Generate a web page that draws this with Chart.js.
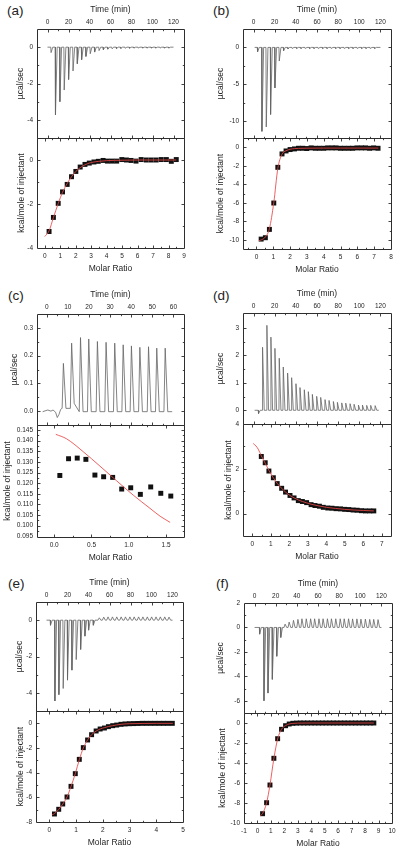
<!DOCTYPE html>
<html><head><meta charset="utf-8">
<script src="https://cdn.jsdelivr.net/npm/chart.js@4.4.1/dist/chart.umd.min.js"></script>
<style>
html,body{margin:0;padding:0;background:#fff;}
#wrap{position:relative;width:400px;height:851px;overflow:hidden;background:#fff;}
#wrap canvas{position:absolute;left:0;top:0;}
.lab{position:absolute;font-family:"Liberation Sans",Arial,sans-serif;font-size:13.5px;line-height:13.5px;color:#222;white-space:nowrap;}
</style></head><body>
<div id="wrap">
  <div class="lab" style="left:7px;top:4px">(a)</div>
  <div class="lab" style="left:213px;top:4px">(b)</div>
  <div class="lab" style="left:8px;top:289px">(c)</div>
  <div class="lab" style="left:213px;top:289px">(d)</div>
  <div class="lab" style="left:8px;top:577px">(e)</div>
  <div class="lab" style="left:216px;top:577px">(f)</div>
</div>
<script>
// ---------- tick labels ----------
const timeTicks = [0, 20, 40, 60, 80, 100, 120];
const timeTicksC = [0, 10, 20, 30, 40, 50, 60];

// ---------- panel (a) ----------
const timeA = [3.4, 7.6, 11.8, 15.9, 20.1, 24.3, 28.4, 32.5, 36.6, 40.7, 44.9, 49.1, 53.2, 57.4, 61.5, 65.7, 69.8, 74.0, 78.1, 82.3, 86.4, 90.6, 94.7, 98.9, 103.0, 107.2, 111.3, 115.5];
const heatA = [-0.30, -3.73, -3.00, -2.36, -1.78, -1.31, -0.91, -0.69, -0.51, -0.36, -0.27, -0.19, -0.14, -0.11, -0.09, -0.08, -0.07, -0.06, -0.06, -0.05, -0.05, -0.05, -0.05, -0.05, -0.05, -0.05, -0.05, -0.05];
const ratioA = [0.28, 0.56, 0.87, 1.15, 1.45, 1.73, 2.01, 2.29, 2.60, 2.88, 3.18, 3.46, 3.77, 4.05, 4.35, 4.65, 4.98, 5.28, 5.58, 5.90, 6.23, 6.56, 6.88, 7.20, 7.53, 7.86, 8.18, 8.50];
const kcalA = [-3.25, -2.61, -1.97, -1.45, -1.11, -0.76, -0.52, -0.32, -0.20, -0.14, -0.09, -0.06, -0.02, -0.05, -0.05, -0.05, 0.02, 0.00, -0.02, -0.05, 0.02, 0.00, 0.00, 0.00, 0.02, 0.02, -0.06, 0.02];
const fitXA = [0.0, 0.28, 0.56, 0.87, 1.15, 1.45, 1.73, 2.01, 2.29, 2.60, 2.88, 3.18, 3.50, 4.00, 5.00, 6.00, 7.00, 8.50];
const fitYA = [-3.48, -3.22, -2.62, -1.98, -1.47, -1.07, -0.76, -0.52, -0.35, -0.22, -0.14, -0.09, -0.06, -0.03, -0.01, 0.00, 0.00, 0.00];
const ratioTicksA = [0, 1, 2, 3, 4, 5, 6, 7, 8, 9];

// ---------- panel (b) ----------
const timeB = [3.8, 7.9, 12.0, 16.1, 20.2, 24.3, 28.4, 32.5, 36.6, 40.7, 44.8, 48.9, 53.0, 57.1, 61.2, 65.3, 69.4, 73.5, 77.6, 81.7, 85.8, 89.9, 94.0, 98.1, 102.2, 106.3, 110.4, 114.5];
const heatB = [-0.6, -11.4, -10.8, -9.1, -5.5, -1.85, -0.45, -0.2, -0.15, -0.15, -0.15, -0.15, -0.15, -0.15, -0.15, -0.15, -0.15, -0.15, -0.15, -0.15, -0.15, -0.15, -0.15, -0.15, -0.15, -0.15, -0.15, -0.15];
const ratioB = [0.28, 0.53, 0.77, 1.03, 1.27, 1.52, 1.76, 2.00, 2.26, 2.50, 2.75, 2.99, 3.25, 3.50, 3.74, 4.00, 4.24, 4.50, 4.73, 4.99, 5.23, 5.49, 5.72, 5.98, 6.24, 6.48, 6.73, 6.97, 7.23];
const kcalB = [-9.93, -9.78, -8.88, -6.03, -2.17, -0.72, -0.40, -0.25, -0.18, -0.11, -0.11, -0.14, -0.07, -0.11, -0.11, -0.11, -0.07, -0.07, -0.07, -0.11, -0.11, -0.11, -0.11, -0.07, -0.07, -0.07, -0.11, -0.07, -0.11];
const fitXB = [0.15, 0.28, 0.53, 0.77, 1.03, 1.27, 1.52, 1.76, 2.00, 2.26, 2.50, 3.00, 4.00, 5.00, 6.00, 7.25];
const fitYB = [-10.1, -10.02, -9.7, -8.8, -6.0, -2.3, -0.75, -0.38, -0.22, -0.15, -0.12, -0.10, -0.09, -0.09, -0.09, -0.09];
const ratioTicksB = [0, 1, 2, 3, 4, 5, 6, 7, 8];

// ---------- panel (c) ----------
const timeC = [7.9, 11.8, 16.0, 19.9, 24.0, 28.1, 32.2, 36.2, 40.1, 44.1, 48.2, 52.1, 56.1];
const heatC = [0.172, 0.245, 0.265, 0.260, 0.251, 0.248, 0.245, 0.239, 0.235, 0.230, 0.232, 0.227, 0.227];
const startLvC = [0.010, 0.010, -0.002, -0.002, -0.002, -0.002, -0.002, -0.002, -0.002, -0.002, -0.002, -0.002, -0.002];
const endLvC = [0.010, 0.028, -0.002, -0.002, -0.002, -0.002, -0.002, -0.002, -0.002, -0.002, -0.002, -0.002, -0.002];
const preTimeC = [0.5, 2.0, 3.0, 4.2, 5.0, 5.8, 6.6, 7.2];
const preHeatC = [0.004, 0.000, 0.004, -0.004, -0.023, -0.012, 0.006, 0.010];
const ratioC = [0.076, 0.193, 0.309, 0.425, 0.546, 0.663, 0.784, 0.905, 1.026, 1.155, 1.294, 1.429, 1.563];
const kcalC = [0.1236, 0.1315, 0.1318, 0.1312, 0.1238, 0.1230, 0.1227, 0.1172, 0.1178, 0.1147, 0.1182, 0.1152, 0.1139];
const fitXC = [0.022, 0.166, 0.39, 0.614, 0.837, 1.061, 1.285, 1.42, 1.554];
const fitYC = [0.1430, 0.1409, 0.1348, 0.1280, 0.1211, 0.1143, 0.1081, 0.1044, 0.1015];
const ratioTicksC = [0, 0.5, 1.0, 1.5];

// ---------- panel (d) ----------
const timeD = [4.7, 8.5, 12.6, 16.4, 20.2, 24.3, 28.1, 32.2, 36.0, 40.1, 43.9, 48.0, 51.8, 55.6, 59.7, 63.5, 67.6, 71.4, 75.5, 79.3, 83.4, 87.2, 91.3, 95.1, 99.2, 103.0, 107.0, 110.8, 115.0];
const heatD = [-0.12, 2.30, 3.10, 2.67, 2.26, 1.90, 1.58, 1.36, 1.19, 0.97, 0.83, 0.75, 0.68, 0.58, 0.51, 0.47, 0.39, 0.36, 0.32, 0.29, 0.27, 0.26, 0.24, 0.22, 0.19, 0.19, 0.18, 0.18, 0.17];
const ratioD = [0.49, 0.70, 0.90, 1.14, 1.35, 1.59, 1.80, 2.04, 2.26, 2.49, 2.71, 2.94, 3.18, 3.39, 3.63, 3.84, 4.08, 4.31, 4.53, 4.77, 5.00, 5.22, 5.45, 5.67, 5.90, 6.12, 6.35, 6.57];
const kcalD = [2.55, 2.27, 1.90, 1.60, 1.34, 1.13, 0.96, 0.81, 0.70, 0.58, 0.54, 0.49, 0.40, 0.36, 0.33, 0.28, 0.25, 0.24, 0.22, 0.21, 0.19, 0.18, 0.16, 0.15, 0.13, 0.12, 0.12, 0.12];
const fitXD = [0.05, 0.20, 0.32, 0.49, 0.70, 0.90, 1.14, 1.35, 1.59, 1.80, 2.04, 2.26, 2.49, 2.71, 2.94, 3.18, 3.50, 4.00, 4.50, 5.00, 5.50, 6.00, 6.57];
const fitYD = [3.13, 3.02, 2.88, 2.58, 2.25, 1.93, 1.60, 1.35, 1.13, 0.96, 0.81, 0.70, 0.61, 0.54, 0.48, 0.42, 0.36, 0.28, 0.23, 0.19, 0.16, 0.14, 0.12];
const ratioTicksD = [0, 1, 2, 3, 4, 5, 6, 7];

// ---------- panel (e) ----------
const timeE = [3.8, 8.0, 11.8, 15.9, 20.0, 24.2, 28.3, 32.5, 36.6, 40.1, 44.6, 50.3, 54.5, 58.6, 62.8, 66.9, 71.1, 75.2, 79.4, 83.5, 87.7, 91.8, 96.0, 100.1, 104.3, 108.4, 112.6, 116.7];
const heatE = [-0.28, -4.45, -4.10, -3.76, -3.30, -2.75, -2.17, -1.61, -0.88, -0.55, -0.28, 0.13, 0.17, 0.18, 0.18, 0.18, 0.18, 0.18, 0.18, 0.18, 0.18, 0.18, 0.18, 0.18, 0.18, 0.18, 0.18, 0.17];
const ratioE = [0.19, 0.35, 0.50, 0.66, 0.81, 0.97, 1.12, 1.27, 1.43, 1.58, 1.75, 1.90, 2.06, 2.21, 2.37, 2.52, 2.68, 2.83, 2.99, 3.15, 3.31, 3.47, 3.63, 3.79, 3.95, 4.11, 4.27, 4.43, 4.60];
const kcalE = [-7.35, -6.97, -6.54, -5.97, -5.11, -4.08, -2.92, -1.97, -1.35, -0.92, -0.62, -0.46, -0.38, -0.27, -0.19, -0.14, -0.08, -0.05, -0.03, -0.02, -0.01, 0.00, 0.00, 0.00, 0.00, 0.00, 0.00, 0.00, 0.00];
const fitXE = [0.10, 0.19, 0.35, 0.50, 0.66, 0.81, 0.97, 1.12, 1.27, 1.43, 1.58, 1.75, 1.90, 2.06, 2.21, 2.37, 2.52, 2.68, 2.83, 3.00, 3.50, 4.00, 4.62];
const fitYE = [-7.43, -7.32, -6.98, -6.55, -5.97, -5.12, -4.08, -2.95, -2.00, -1.35, -0.92, -0.63, -0.46, -0.35, -0.26, -0.19, -0.13, -0.08, -0.05, -0.03, -0.01, 0.00, 0.00];
const ratioTicksE = [0, 1, 2, 3, 4, 5];

// ---------- panel (f) ----------
const timeF = [4.8, 8.9, 12.7, 16.8, 21.0, 24.8, 28.9, 32.7, 36.8, 41.0, 44.8, 48.9, 53.0, 56.8, 60.9, 64.8, 68.9, 72.7, 76.8, 81.0, 84.8, 88.9, 92.7, 96.8, 100.6, 104.8, 108.9, 112.7, 116.8];
const heatF = [-0.55, -6.00, -5.37, -4.25, -2.36, -0.82, 0.27, 0.44, 0.58, 0.66, 0.71, 0.71, 0.71, 0.71, 0.71, 0.71, 0.71, 0.71, 0.71, 0.71, 0.71, 0.71, 0.70, 0.70, 0.68, 0.68, 0.66, 0.66, 0.64];
const ratioF = [0.38, 0.68, 0.93, 1.22, 1.50, 1.79, 2.09, 2.36, 2.63, 2.90, 3.18, 3.45, 3.72, 4.00, 4.27, 4.55, 4.82, 5.09, 5.37, 5.64, 5.91, 6.19, 6.46, 6.73, 7.01, 7.28, 7.55, 7.83, 8.10, 8.37, 8.65];
const kcalF = [-9.07, -7.97, -6.20, -3.53, -1.57, -0.63, -0.27, -0.10, -0.03, -0.01, 0.00, 0.00, 0.00, 0.00, 0.00, 0.00, 0.00, 0.00, 0.00, 0.00, 0.00, 0.00, 0.00, 0.00, 0.00, 0.00, 0.00, 0.00, 0.00, 0.00, 0.00];
const fitXF = [0.19, 0.38, 0.68, 0.93, 1.22, 1.50, 1.79, 2.09, 2.36, 2.63, 3.00, 4.00, 8.65];
const fitYF = [-9.30, -9.05, -7.97, -6.20, -3.55, -1.60, -0.62, -0.26, -0.10, -0.04, -0.01, 0.00, 0.00];
const ratioTicksF = [-1, 0, 1, 2, 3, 4, 5, 6, 7, 8, 9, 10];

// ---------- drawing ----------
const W = 400, H = 851;
const FONT = '"Liberation Sans", Arial, sans-serif';
const TXT = '#262626';

const framePlugin = {
  id: 'frame',
  afterDatasetsDraw(chart) {
    const {ctx, chartArea: a} = chart;
    const sx = chart.scales.x, sy = chart.scales.y;
    const L = Math.round(a.left) + 0.5, R = Math.round(a.right) + 0.5;
    const T = Math.round(a.top) + 0.5, B = Math.round(a.bottom) + 0.5;
    ctx.save();
    ctx.strokeStyle = '#2e2e2e';
    ctx.lineWidth = 1;
    ctx.beginPath();
    ctx.rect(L, T, R - L, B - T);
    ctx.stroke();
    const marks = (scale) => {
      const maj = scale.ticks.map(t => t.value);
      const step = (maj[1] - maj[0]) / 2;
      const out = [];
      for (let k = -40; k <= 80; k++) {
        const v = maj[0] + k * step;
        if (v < scale.min - 1e-9 || v > scale.max + 1e-9) continue;
        out.push([scale.getPixelForValue(v), k % 2 === 0 ? 3 : 1.7]);
      }
      return out;
    };
    ctx.lineWidth = 0.9;
    ctx.beginPath();
    marks(sx).forEach(([p, len]) => {
      const x = Math.round(p) + 0.5;
      if (x - L < 1.5 || R - x < 1.5) return;
      ctx.moveTo(x, T); ctx.lineTo(x, T + len);
      ctx.moveTo(x, B); ctx.lineTo(x, B - len);
    });
    marks(sy).forEach(([p, len]) => {
      const y = Math.round(p) + 0.5;
      if (y - T < 1.5 || B - y < 1.5) return;
      ctx.moveTo(L, y); ctx.lineTo(L + len, y);
      ctx.moveTo(R, y); ctx.lineTo(R - len, y);
    });
    ctx.stroke();
    ctx.restore();
  }
};

function trace(t0, t1, times, heats, shape, base, preT, preV, startLv, endLv) {
  const pts = [{x: t0, y: base}];
  (preT || []).forEach((t, i) => pts.push({x: t, y: preV[i]}));
  times.forEach((t, i) => {
    const h = heats[i];
    const s = h < 0 ? shape.neg : shape.pos;
    pts.push({x: t - s[0], y: startLv ? startLv[i] : base});
    pts.push({x: t, y: h});
    pts.push({x: t + s[1], y: endLv ? endLv[i] : base});
  });
  pts.push({x: t1, y: base});
  return pts;
}
const pairs = (xs, ys) => xs.map((x, i) => ({x: x, y: ys[i]}));

function lineDs(data) {
  return {data: data, showLine: true, borderColor: '#646464', borderWidth: 0.8, pointRadius: 0, tension: 0};
}
function bottomDs(xs, ys, fx, fy) {
  return [
    {data: pairs(fx, fy), showLine: true, borderColor: 'rgb(232,70,70)', borderWidth: 0.85, pointRadius: 0,
     cubicInterpolationMode: 'monotone', order: 0},
    {data: pairs(xs, ys), showLine: false, pointStyle: 'rect', pointRadius: 3.5,
     backgroundColor: '#111', borderColor: '#111', borderWidth: 0, order: 1}
  ];
}

function makeChart(o) {
  const cv = document.createElement('canvas');
  cv.width = W; cv.height = H;
  cv.style.width = W + 'px'; cv.style.height = H + 'px';
  document.getElementById('wrap').appendChild(cv);
  const isTop = o.xPos === 'top';
  const hX = isTop ? 24.5 : 25.5;
  const wY = o.l - (o.yTitleX - 5.1);
  const pad = isTop
    ? {left: o.l - wY, right: W - o.r, top: o.t - hX, bottom: H - o.b}
    : {left: o.l - wY, right: W - o.r, top: o.t, bottom: H - o.b - hX};
  const tickFont = {family: FONT, size: 6.5};
  const titleFont = {family: FONT, size: 8.5};
  return new Chart(cv, {
    type: 'scatter',
    data: {datasets: o.datasets},
    options: {
      responsive: false, animation: false, devicePixelRatio: 1, events: [],
      layout: {padding: pad},
      plugins: {legend: {display: false}, tooltip: {enabled: false}},
      scales: {
        x: {
          type: 'linear', position: o.xPos, min: o.xMin, max: o.xMax, bounds: 'data',
          afterBuildTicks: s => { s.ticks = o.xTicks.map(v => ({value: v})); },
          afterFit: s => { s.height = hX; },
          grid: {display: false, drawTicks: false}, border: {display: false},
          ticks: {autoSkip: false, maxRotation: 0, minRotation: 0, padding: isTop ? 3 : 4,
                  color: TXT, font: tickFont, callback: v => Number(v).toFixed(o.xDec || 0)},
          title: {display: true, text: o.xTitle, color: TXT, font: titleFont, padding: 0}
        },
        y: {
          type: 'linear', position: 'left', min: o.yMin, max: o.yMax, bounds: 'data',
          afterBuildTicks: s => { s.ticks = o.yTicks.map(v => ({value: v})); },
          afterFit: s => { s.width = wY; },
          grid: {display: false, drawTicks: false}, border: {display: false},
          ticks: {autoSkip: false, padding: 4, color: TXT, font: tickFont,
                  callback: v => Number(v).toFixed(o.yDec || 0)},
          title: {display: true, text: o.yTitle, color: TXT, font: titleFont, padding: 0}
        }
      }
    },
    plugins: [framePlugin]
  });
}

const sharp = {neg: [0.3, 1.6], pos: [0.3, 1.6]};
const UC = 'µcal/sec', KC = 'kcal/mole of injectant', TM = 'Time (min)', MR = 'Molar Ratio';

// (a)
makeChart({l: 37, r: 184, t: 29, b: 138, xPos: 'top', xMin: -10, xMax: 130, xTicks: timeTicks, xTitle: TM,
  yMin: -5, yMax: 1, yTicks: [-4, -2, 0], yTitle: UC, yTitleX: 20.7,
  datasets: [lineDs(trace(0, 120, timeA, heatA, sharp, 0))]});
makeChart({l: 37, r: 184, t: 138, b: 248, xPos: 'bottom', xMin: -0.5, xMax: 9, xTicks: ratioTicksA, xTitle: MR,
  yMin: -4, yMax: 1, yTicks: [-4, -2, 0], yTitle: KC, yTitleX: 21.7,
  datasets: bottomDs(ratioA, kcalA, fitXA, fitYA)});
// (b)
makeChart({l: 243, r: 391, t: 29, b: 138, xPos: 'top', xMin: -10, xMax: 130, xTicks: timeTicks, xTitle: TM,
  yMin: -12.3, yMax: 2.5, yTicks: [-10, -5, 0], yTitle: UC, yTitleX: 220.7,
  datasets: [lineDs(trace(1, 120, timeB, heatB, sharp, 0))]});
makeChart({l: 243, r: 391, t: 138, b: 249, xPos: 'bottom', xMin: -0.8, xMax: 8, xTicks: ratioTicksB, xTitle: MR,
  yMin: -11, yMax: 1, yTicks: [-10, -8, -6, -4, -2, 0], yTitle: KC, yTitleX: 220.7,
  datasets: bottomDs(ratioB, kcalB, fitXB, fitYB)});
// (c)
makeChart({l: 37, r: 184, t: 314, b: 425, xPos: 'top', xMin: -4.6, xMax: 65, xTicks: timeTicksC, xTitle: TM,
  yMin: -0.05, yMax: 0.35, yTicks: [0, 0.1, 0.2, 0.3], yDec: 1, yTitle: UC, yTitleX: 15,
  datasets: [lineDs(trace(-1.9, 59.4, timeC, heatC, {neg: [0.6, 1.2], pos: [0.6, 1.2]}, -0.002, preTimeC, preHeatC, startLvC, endLvC))]});
makeChart({l: 37, r: 184, t: 425, b: 537, xPos: 'bottom', xMin: -0.23, xMax: 1.74, xTicks: ratioTicksC, xDec: 1, xTitle: MR,
  yMin: 0.0946, yMax: 0.1474, yTicks: [0.095, 0.100, 0.105, 0.110, 0.115, 0.120, 0.125, 0.130, 0.135, 0.140, 0.145], yDec: 3,
  yTitle: KC, yTitleX: 7.3,
  datasets: bottomDs(ratioC, kcalC, fitXC, fitYC)});
// (d)
makeChart({l: 243, r: 391, t: 313, b: 424, xPos: 'top', xMin: -10, xMax: 130, xTicks: timeTicks, xTitle: TM,
  yMin: -0.5, yMax: 3.55, yTicks: [0, 1, 2, 3], yTitle: UC, yTitleX: 220.7,
  datasets: [lineDs(trace(1, 118.4, timeD, heatD, sharp, 0))]});
makeChart({l: 243, r: 391, t: 424, b: 536, xPos: 'bottom', xMin: -0.5, xMax: 7.5, xTicks: ratioTicksD, xTitle: MR,
  yMin: -1, yMax: 4, yTicks: [0, 2, 4], yTitle: KC, yTitleX: 228.3,
  datasets: bottomDs(ratioD, kcalD, fitXD, fitYD)});
// (e)
makeChart({l: 36, r: 183, t: 602, b: 711, xPos: 'top', xMin: -10, xMax: 130, xTicks: timeTicks, xTitle: TM,
  yMin: -5, yMax: 1, yTicks: [-4, -2, 0], yTitle: UC, yTitleX: 20,
  datasets: [lineDs(trace(0, 120, timeE, heatE, {neg: [0.3, 1.6], pos: [1.3, 1.5]}, 0))]});
makeChart({l: 36, r: 183, t: 711, b: 822, xPos: 'bottom', xMin: -0.5, xMax: 5, xTicks: ratioTicksE, xTitle: MR,
  yMin: -8, yMax: 1, yTicks: [-8, -6, -4, -2, 0], yTitle: KC, yTitleX: 20.7,
  datasets: bottomDs(ratioE, kcalE, fitXE, fitYE)});
// (f)
makeChart({l: 244, r: 392, t: 603, b: 713, xPos: 'top', xMin: -10, xMax: 130, xTicks: timeTicks, xTitle: TM,
  yMin: -7, yMax: 2, yTicks: [-6, -4, -2, 0, 2], yTitle: UC, yTitleX: 220.7,
  datasets: [lineDs(trace(0, 120, timeF, heatF, {neg: [0.3, 1.6], pos: [1.0, 1.5]}, 0))]});
makeChart({l: 244, r: 392, t: 713, b: 823, xPos: 'bottom', xMin: -1, xMax: 10, xTicks: ratioTicksF, xTitle: MR,
  yMin: -10, yMax: 1, yTicks: [-10, -8, -6, -4, -2, 0], yTitle: KC, yTitleX: 222.7,
  datasets: bottomDs(ratioF, kcalF, fitXF, fitYF)});
</script>
</body></html>
